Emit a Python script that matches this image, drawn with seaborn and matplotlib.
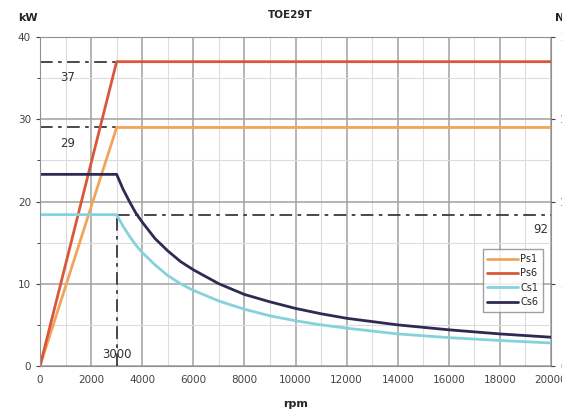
import matplotlib
matplotlib.use("Agg")
import matplotlib.pyplot as plt
import pandas as pd
import seaborn as sns
from matplotlib.ticker import MultipleLocator

# values
rpm_ps = [0, 3000, 20000]
ps1 = [0, 29, 29]
ps6 = [0, 37, 37]

rpm_cs = [0, 3000, 3250, 3500, 3750, 4000, 4500, 5000, 5500, 6000, 7000, 8000, 9000,
          10000, 11000, 12000, 14000, 16000, 18000, 20000]
cs1 = [18.4, 18.4, 17.0, 15.8, 14.7, 13.8, 12.3, 11.0, 10.0, 9.2, 7.9, 6.9, 6.1,
       5.5, 5.0, 4.6, 3.9, 3.45, 3.1, 2.8]
cs6 = [23.3, 23.3, 21.5, 20.0, 18.6, 17.5, 15.5, 14.0, 12.7, 11.7, 10.0, 8.7, 7.8,
       7.0, 6.35, 5.8, 5.0, 4.4, 3.9, 3.5]

base_rpm = 3000
power_marks = [37, 29]
torque_mark_kw = 18.4
torque_label = "92"

colors = {"Ps1": "#f2a55a", "Ps6": "#d9573a", "Cs1": "#86d2dc", "Cs6": "#2e2a52"}

df = pd.concat([
    pd.DataFrame({"rpm": rpm_ps, "val": ps1, "curve": "Ps1"}),
    pd.DataFrame({"rpm": rpm_ps, "val": ps6, "curve": "Ps6"}),
    pd.DataFrame({"rpm": rpm_cs, "val": cs1, "curve": "Cs1"}),
    pd.DataFrame({"rpm": rpm_cs, "val": cs6, "curve": "Cs6"}),
])

sns.set_style("white")
fig = plt.figure(figsize=(5.62, 4.13), dpi=100)
ax = fig.add_axes([40 / 562, 1 - 366 / 413, 511 / 562, 329 / 413])

ax.set_xlim(0, 20000)
ax.set_ylim(0, 40)
ax.xaxis.set_major_locator(MultipleLocator(2000))
ax.xaxis.set_minor_locator(MultipleLocator(1000))
ax.yaxis.set_major_locator(MultipleLocator(10))
ax.yaxis.set_minor_locator(MultipleLocator(5))
ax.grid(which="major", color="#a0a0a0", linewidth=1.1)
ax.grid(which="minor", color="#dcdcdc", linewidth=0.8)
ax.set_axisbelow(True)

dash = (0, (7, 3, 2, 3))
for v in power_marks:
    ax.plot([0, base_rpm], [v, v], color="#3a3a3a", linestyle=dash, linewidth=1.3)
ax.plot([base_rpm, base_rpm], [0, torque_mark_kw], color="#3a3a3a", linestyle=dash, linewidth=1.3)
ax.plot([base_rpm, 20000], [torque_mark_kw, torque_mark_kw], color="#3a3a3a",
        linestyle=dash, linewidth=1.3)

sns.lineplot(data=df, x="rpm", y="val", hue="curve", palette=colors,
             hue_order=["Ps1", "Ps6", "Cs1", "Cs6"], linewidth=2, ax=ax,
             sort=False, estimator=None)

ax.set_xlabel("")
ax.set_ylabel("")
ax.tick_params(axis="both", which="major", labelsize=7.5, colors="#444444", length=3)
for s in ax.spines.values():
    s.set_color("#909090")

ax2 = ax.twinx()
ax2.set_ylim(0, 200)
ax2.yaxis.set_major_locator(MultipleLocator(50))
ax2.tick_params(axis="y", labelsize=7.5, colors="#444444", length=3)
for s in ax2.spines.values():
    s.set_visible(False)

leg = ax.legend(loc="upper left", bbox_to_anchor=(0.866, 0.355), fontsize=7,
                frameon=True, fancybox=False, handlelength=3.2, borderpad=0.5,
                labelspacing=0.45, handletextpad=0.2, borderaxespad=0)
leg.get_frame().set_edgecolor("#888888")
leg.get_frame().set_linewidth(1)

ax.text(800, 34.6, "37", fontsize=8.5, color="#333333")
ax.text(800, 26.6, "29", fontsize=8.5, color="#333333")
ax.text(19300, 16.2, torque_label, fontsize=8.5, color="#333333")
ax.text(base_rpm, 1.0, "3000", fontsize=8.5, color="#333333", ha="center")

fig.text(290 / 562, 1 - 15 / 413, "TOE29T", fontsize=7.5, weight="bold", ha="center", va="center")
fig.text(18 / 562, 1 - 18 / 413, "kW", fontsize=8, weight="bold", ha="left", va="center")
fig.text(296 / 562, 1 - 404 / 413, "rpm", fontsize=8, weight="bold", ha="center", va="center")
fig.text(555 / 562, 1 - 18 / 413, "Nm", fontsize=8, weight="bold", ha="left", va="center")

fig.savefig("out.png", dpi=100)
